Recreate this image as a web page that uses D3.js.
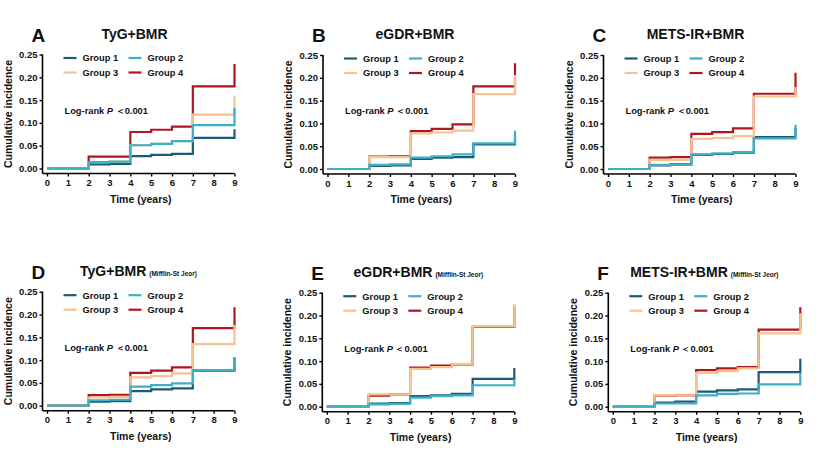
<!DOCTYPE html>
<html>
<head>
<meta charset="utf-8">
<script src="https://cdn.jsdelivr.net/npm/d3@7"></script>
<style>
  body { margin: 0; background: #fff; }
  svg text { font-family: "Liberation Sans", Arial, sans-serif; font-weight: bold; fill: #111; }
</style>
</head>
<body>
<svg id="viz" width="818" height="461"></svg>
<script>
// follow-up times (years) where the curves step
var times = [0, 2, 3, 4, 5, 6, 7, 9];
var xTicks = [0, 1, 2, 3, 4, 5, 6, 7, 8, 9];
var yTicks = [0, 0.05, 0.10, 0.15, 0.20, 0.25];
var groups = ["Group 1", "Group 2", "Group 3", "Group 4"];

// cumulative incidence per group, one value per time above (last = value after final jump)
var tygBmr = [
  [0, 0.009, 0.010, 0.027, 0.030, 0.032, 0.067, 0.086],
  [0, 0.014, 0.015, 0.051, 0.054, 0.060, 0.095, 0.133],
  [0, 0.014, 0.015, 0.051, 0.054, 0.060, 0.118, 0.160],
  [0, 0.026, 0.026, 0.080, 0.085, 0.092, 0.180, 0.229]
];
var egdrBmr = [
  [0, 0.007, 0.008, 0.022, 0.025, 0.026, 0.054, 0.078],
  [0, 0.009, 0.010, 0.025, 0.028, 0.032, 0.056, 0.084],
  [0, 0.026, 0.026, 0.078, 0.080, 0.084, 0.164, 0.206],
  [0, 0.027, 0.028, 0.083, 0.088, 0.098, 0.181, 0.232]
];
var metsBmr = [
  [0, 0.008, 0.010, 0.031, 0.033, 0.036, 0.070, 0.090],
  [0, 0.009, 0.009, 0.032, 0.034, 0.037, 0.067, 0.097],
  [0, 0.020, 0.020, 0.066, 0.068, 0.072, 0.159, 0.180],
  [0, 0.025, 0.026, 0.077, 0.081, 0.089, 0.165, 0.211]
];
var tygMsj = [
  [0, 0.009, 0.010, 0.032, 0.036, 0.038, 0.077, 0.105],
  [0, 0.012, 0.013, 0.042, 0.045, 0.049, 0.078, 0.107],
  [0, 0.018, 0.019, 0.062, 0.065, 0.071, 0.135, 0.177],
  [0, 0.023, 0.024, 0.072, 0.077, 0.084, 0.170, 0.216]
];
var egdrMsj = [
  [0, 0.007, 0.008, 0.023, 0.025, 0.028, 0.061, 0.085],
  [0, 0.005, 0.006, 0.020, 0.023, 0.025, 0.047, 0.060],
  [0, 0.027, 0.027, 0.083, 0.087, 0.094, 0.176, 0.225],
  [0, 0.024, 0.027, 0.086, 0.090, 0.093, 0.175, 0.220]
];
var metsMsj = [
  [0, 0.009, 0.011, 0.033, 0.036, 0.038, 0.076, 0.105],
  [0, 0.007, 0.007, 0.025, 0.028, 0.029, 0.049, 0.075],
  [0, 0.025, 0.025, 0.074, 0.078, 0.084, 0.161, 0.205],
  [0, 0.024, 0.025, 0.080, 0.084, 0.087, 0.169, 0.218]
];

var colors = ["#1b5b75", "#3eb0c6", "#f6c28f", "#b0161d"];
var drawOrder = [0, 3, 2, 1];

var panels = [
  { letter: "A", title: "TyG+BMR", sub: "", data: tygBmr, ax: 42.5, top: 54.5 },
  { letter: "B", title: "eGDR+BMR", sub: "", data: egdrBmr, ax: 323, top: 55 },
  { letter: "C", title: "METS-IR+BMR", sub: "", data: metsBmr, ax: 603.5, top: 55 },
  { letter: "D", title: "TyG+BMR", sub: "(Mifflin-St Jeor)", data: tygMsj, ax: 42.5, top: 291.7 },
  { letter: "E", title: "eGDR+BMR", sub: "(Mifflin-St Jeor)", data: egdrMsj, ax: 322.3, top: 292.7 },
  { letter: "F", title: "METS-IR+BMR", sub: "(Mifflin-St Jeor)", data: metsMsj, ax: 608.3, top: 292.7 }
];

var svg = d3.select("#viz");

panels.forEach(function (p) {
  var g = svg.append("g");
  var x0 = p.ax + 4.5;
  var y0 = p.top + 114;
  var x = d3.scaleLinear().domain([0, 9]).range([x0, x0 + 187.5]);
  var y = d3.scaleLinear().domain([0, 0.25]).range([y0, p.top]);
  var base = y0 + 5;

  // y axis
  var yAxis = g.append("g")
    .attr("transform", "translate(" + p.ax + ",0)")
    .call(d3.axisLeft(y).tickValues(yTicks).tickFormat(d3.format(".2f")).tickSizeOuter(0).tickSize(3).tickPadding(2));
  yAxis.select(".domain").remove();
  yAxis.append("line").attr("x1", 0).attr("x2", 0).attr("y1", p.top).attr("y2", base)
    .attr("stroke", "#000").attr("stroke-width", 1.6);
  yAxis.selectAll(".tick line").attr("stroke-width", 1.4);
  yAxis.selectAll("text").style("font-size", "9.5px");

  // x axis
  var xAxis = g.append("g")
    .attr("transform", "translate(0," + base + ")")
    .call(d3.axisBottom(x).tickValues(xTicks).tickFormat(d3.format("d")).tickSizeOuter(0).tickSize(3).tickPadding(3));
  xAxis.select(".domain").remove();
  xAxis.append("line").attr("x1", p.ax).attr("x2", x(9)).attr("y1", 0).attr("y2", 0)
    .attr("stroke", "#000").attr("stroke-width", 1.6);
  xAxis.selectAll(".tick line").attr("stroke-width", 1.4);
  xAxis.selectAll("text").style("font-size", "9.5px");

  g.append("text").attr("x", x(4.5)).attr("y", y0 + 34).attr("text-anchor", "middle")
    .style("font-size", "10.5px").text("Time (years)");

  g.append("text")
    .attr("transform", "translate(" + (p.ax - 31) + "," + ((p.top + base) / 2) + ") rotate(-90)")
    .attr("text-anchor", "middle").style("font-size", "10.5px").text("Cumulative incidence");

  // curves
  var line = d3.line()
    .x(function (d) { return x(d[0]); })
    .y(function (d) { return y(d[1]); })
    .curve(d3.curveStepAfter);
  drawOrder.forEach(function (k) {
    g.append("path")
      .datum(times.map(function (t, i) { return [t, p.data[k][i]]; }))
      .attr("d", line).attr("fill", "none")
      .attr("stroke", colors[k]).attr("stroke-width", 2.2);
  });

  // legend
  groups.forEach(function (name, i) {
    var lx = p.ax + 21 + (i % 2) * 65;
    var ly = p.top + 3.5 + Math.floor(i / 2) * 14.5;
    g.append("line").attr("x1", lx).attr("x2", lx + 13).attr("y1", ly).attr("y2", ly)
      .attr("stroke", colors[i]).attr("stroke-width", 2.2);
    g.append("text").attr("x", lx + 19).attr("y", ly + 3.3).style("font-size", "9.3px").text(name);
  });

  var lr = g.append("text").attr("x", p.ax + 22).attr("y", p.top + 59).style("font-size", "9.3px");
  lr.append("tspan").text("Log-rank ");
  lr.append("tspan").style("font-style", "italic").text("P");
  lr.append("tspan").text(" \uFF1C0.001");

  // titles
  var t = g.append("text").attr("x", p.ax + (p.sub ? 96 : 92)).attr("y", p.top - 16)
    .attr("text-anchor", "middle").style("font-size", "14px");
  t.append("tspan").text(p.title);
  if (p.sub) t.append("tspan").attr("dx", 3).style("font-size", "6.5px").text(p.sub);

  g.append("text").attr("x", p.ax - 11).attr("y", p.top - 13).style("font-size", "19px").text(p.letter);
});
</script>
</body>
</html>
